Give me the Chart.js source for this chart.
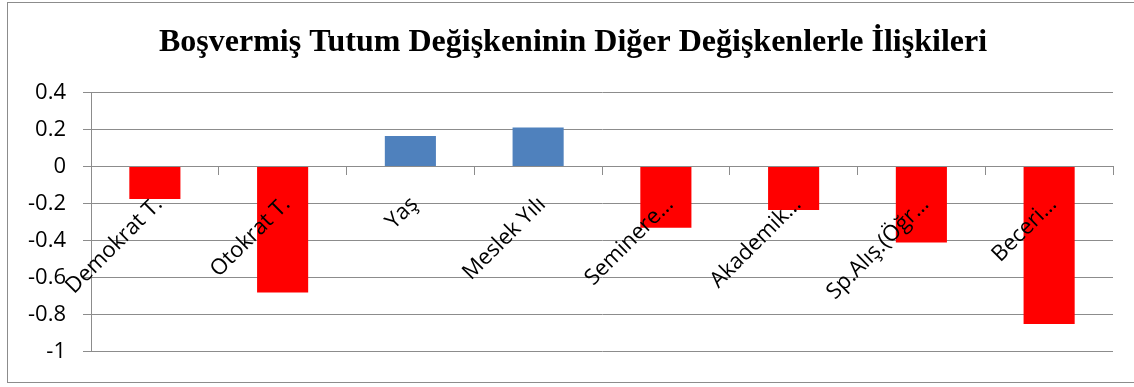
<!DOCTYPE html>
<html>
<head>
<meta charset="utf-8">
<script src="https://cdn.jsdelivr.net/npm/chart.js@4/dist/chart.umd.min.js"></script>
<style>
  html, body { margin: 0; padding: 0; background: #fff; overflow: hidden; }
  #frame {
    position: absolute; left: 7px; top: 2px;
    width: 1130px; height: 379px;
    border: 1px solid #8c8c8c;
  }
</style>
</head>
<body>
<div id="frame"><canvas id="corrChart"></canvas></div>
<script>
var chartTitle = 'Boşvermiş Tutum Değişkeninin Diğer Değişkenlerle İlişkileri';
var categories = ['Demokrat T.', 'Otokrat T.', 'Yaş', 'Meslek Yılı', 'Seminere…', 'Akademik…', 'Sp.Alış.(Öğr…', 'Beceri…'];
var values = [-0.175, -0.68, 0.165, 0.21, -0.33, -0.235, -0.41, -0.85];
var yTicks = [0.4, 0.2, 0, -0.2, -0.4, -0.6, -0.8, -1];

var gridGray = '#8c8c8c';

// negatives red, positives blue
var barColors = values.map(function (v) { return v < 0 ? '#ff0000' : '#4f81bd'; });

var ctx = document.getElementById('corrChart').getContext('2d');
var corrChart = new Chart(ctx, {
  type: 'bar',
  data: {
    labels: categories,
    datasets: [{
      data: values,
      backgroundColor: barColors,
      borderWidth: 0,
      barPercentage: 0.4,
      categoryPercentage: 1
    }]
  },
  options: {
    responsive: true,
    maintainAspectRatio: false,
    animation: false,
    layout: { padding: { left: 0, right: 0, top: 0, bottom: 29 } },
    plugins: {
      legend: { display: false },
      tooltip: { enabled: false },
      title: {
        display: true,
        text: chartTitle,
        color: '#000',
        font: { family: 'Liberation Serif', size: 32, weight: 'bold' },
        padding: { top: 21, bottom: 30 }
      }
    },
    scales: {
      x: {
        position: { y: 0 },
        grid: {
          display: true,
          drawOnChartArea: false,
          drawTicks: true,
          tickLength: 8,
          color: gridGray,
          offset: true
        },
        border: { display: true, color: gridGray, width: 1 },
        ticks: {
          z: 1, // category names sit over the bars
          autoSkip: false,
          minRotation: 45,
          maxRotation: 45,
          padding: 17,
          labelOffset: 4,
          color: '#000',
          font: { family: 'Open Sans', size: 22 }
        }
      },
      y: {
        min: -1,
        max: 0.4,
        afterBuildTicks: function (scale) {
          scale.ticks = yTicks.map(function (v) { return { value: v }; });
        },
        afterFit: function (scale) { scale.width = 83; },
        grid: {
          color: gridGray,
          lineWidth: 1,
          tickLength: 8,
          drawTicks: true
        },
        border: { display: true, color: gridGray, width: 1 },
        ticks: {
          padding: 17,
          color: '#000',
          font: { family: 'Open Sans', size: 22 },
          callback: function (v) { return String(Math.round(v * 10) / 10); }
        }
      },
      // empty right-hand gutter so the title centres over the whole frame
      yGutter: {
        position: 'right',
        grid: { display: false },
        border: { display: false },
        ticks: { display: false },
        afterFit: function (scale) { scale.width = 25; }
      }
    }
  }
});
</script>
</body>
</html>
